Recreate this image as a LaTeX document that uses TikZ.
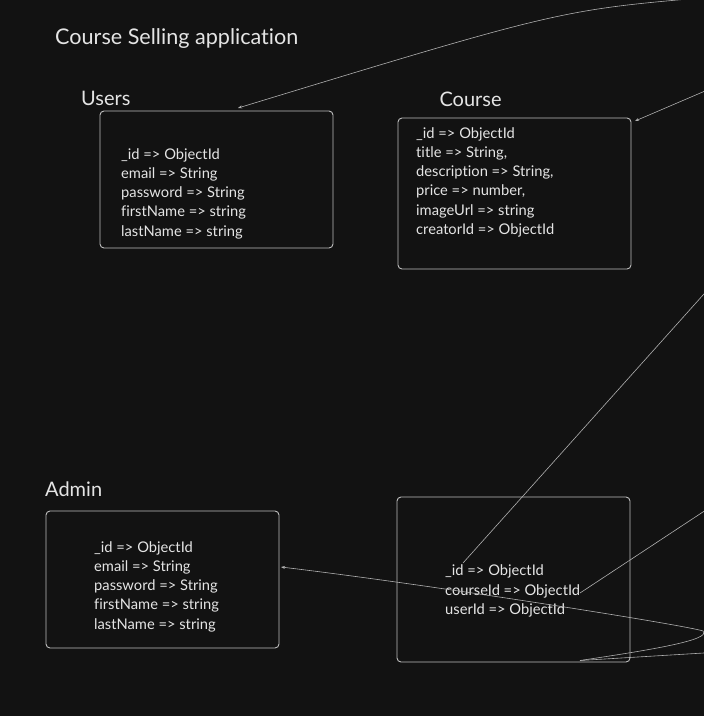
\documentclass[tikz,border=0pt]{standalone}
\usepackage{fontspec}
\setmainfont{Lato}[Ligatures={NoCommon}]
\usetikzlibrary{arrows.meta}
\definecolor{bg}{HTML}{121212}
\definecolor{txt}{HTML}{E4E4E4}
\definecolor{edge}{HTML}{BDBDBD}
\definecolor{wire}{HTML}{B0B0B0}
\tikzset{
  tablebox/.style={draw=edge, line width=0.9pt, rounded corners=4pt, fill=bg},
  titletext/.style={text=txt, inner sep=0pt, anchor=base west, font=\fontsize{20}{24}\selectfont},
  fieldtext/.style={text=txt, inner sep=0pt, anchor=base west, font=\fontsize{14.7}{18}\selectfont},
  conn/.style={draw=wire, line width=0.6pt},
  arr/.style={conn, -{Stealth[length=4pt,width=3pt]}}
}
\begin{document}
\begin{tikzpicture}[x=1pt,y=-1pt]
\fill[bg] (0,0) rectangle (704,716);
\useasboundingbox (0,0) rectangle (704,716);
\begin{scope}
\clip (0,0) rectangle (704,716);

% title
\node[titletext, font=\fontsize{21.6}{26}\selectfont] (title) at (55,44.3) {Course Selling application};

% Users
\node[titletext] (usersT) at (81,105) {Users};
\draw[tablebox] (100,111) rectangle (333,248);
\foreach \t [count=\i] in {\_id => ObjectId, email => String, password => String, firstName => string, lastName => string}
  \node[fieldtext] (u\i) at (121,{159+19.3*(\i-1)}) {\t};

% Course
\node[titletext] (courseT) at (439.3,106) {Course};
\draw[tablebox] (398,118) rectangle (631,269);
\foreach \t [count=\i] in {\_id => ObjectId, {title => String,}, {description => String,}, {price => number,}, imageUrl => string, creatorId => ObjectId}
  \node[fieldtext] (c\i) at (416,{138+19.3*(\i-1)}) {\t};

% Admin
\node[titletext] (adminT) at (45,496) {Admin};
\draw[tablebox] (46,511) rectangle (279,648);
\foreach \t [count=\i] in {\_id => ObjectId, email => String, password => String, firstName => string, lastName => string}
  \node[fieldtext] (a\i) at (94,{552+19.3*(\i-1)}) {\t};

% Purchases (untitled)
\draw[tablebox] (397,497) rectangle (630,662);
\foreach \t [count=\i] in {\_id => ObjectId, courseId => ObjectId, userId => ObjectId}
  \node[fieldtext] (p\i) at (445,{575.7+19.3*(\i-1)}) {\t};

% connector end points
\coordinate (usersTop) at (238,108);
\coordinate (courseTR) at (635,121);
\coordinate (adminR) at (281,567);
\coordinate (pId) at (463,563);
\coordinate (pCourse) at (580,593);
\coordinate (pBot) at (580,660.5);
\coordinate (offA) at (712,-3);
\coordinate (offB) at (712,88);
\coordinate (offC) at (712,285);
\coordinate (offD) at (712,506);
\coordinate (offE) at (712,652.5);
\coordinate (tip) at (703,631);

% connectors
\draw[arr] (offA) .. controls (560,10) .. (usersTop);
\draw[arr] (offB) -- (courseTR);
\draw[conn] (offC) -- (pId);
\draw[conn] (offD) -- (pCourse);
\draw[conn] (offE) -- (pBot);
\draw[arr] (pBot) .. controls (650,650) and (712,640) .. (tip)
  .. controls (690,626) and (440,586) .. (adminR);
\end{scope}
\end{tikzpicture}
\end{document}
